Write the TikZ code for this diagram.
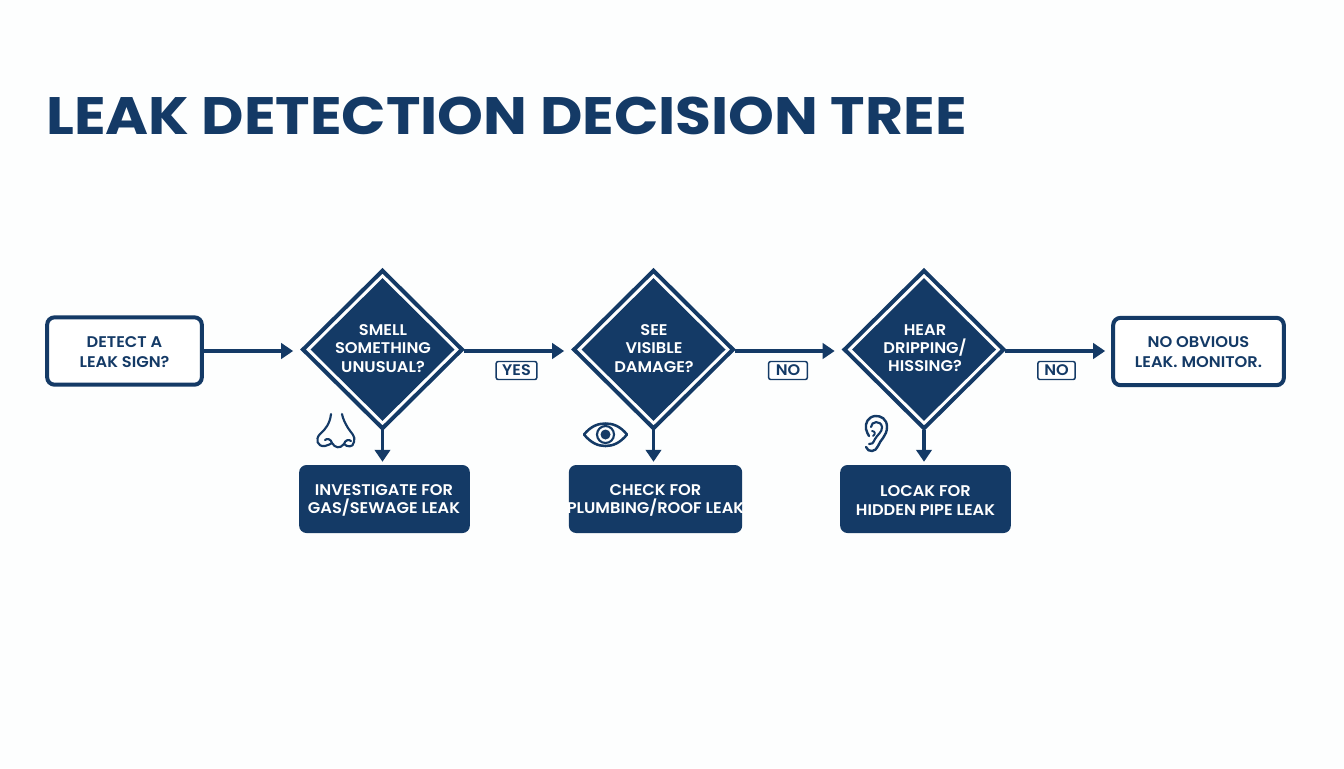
\documentclass[tikz,border=0pt]{standalone}
\usepackage{fontspec}
\setmainfont{Poppins}
\newfontfamily\titlefont[FakeStretch=1.108]{Poppins Bold}
\newfontfamily\bodyfont[FakeStretch=1.05]{Poppins SemiBold}
\usetikzlibrary{arrows.meta,shapes.geometric,calc}
\definecolor{navy}{HTML}{143A66}
\definecolor{paper}{HTML}{FDFEFE}
\tikzset{
  x=0.75pt,y=-0.75pt,
  txt/.style={font=\bodyfont\fontsize{11.6}{13.6}\selectfont,align=center,inner sep=0,outer sep=0},
  outlinebox/.style={draw=navy,line width=3pt,fill=white,rounded corners=5.5pt,inner sep=0,outer sep=1.5pt,minimum height=50.5pt},
  solidbox/.style={fill=navy,rounded corners=5.5pt,inner sep=0,minimum height=51pt},
  diaouter/.style={diamond,aspect=1,draw=navy,line width=3pt,fill=white,inner sep=0,outer sep=1pt,minimum width=120pt,minimum height=119pt},
  diainner/.style={diamond,aspect=1,fill=navy,inner sep=0,outer sep=0,minimum width=108pt,minimum height=107pt},
  flow/.style={draw=navy,line width=2.4pt,-{Triangle[length=9pt,width=11.5pt]}},
  taglabel/.style={draw=navy,line width=1.1pt,fill=white,rounded corners=1.5pt,inner sep=0,minimum height=13.5pt,text=navy,font=\bodyfont\fontsize{11.5}{13}\selectfont},
  icon/.style={draw=navy,line width=1.6pt,line cap=round,line join=round}
}
\begin{document}
\begin{tikzpicture}
\useasboundingbox (0,0) rectangle (1344,768);
\fill[paper] (0,0) rectangle (1344,768);
\node[anchor=base west,inner sep=0,text=navy,font=\titlefont\fontsize{39.5}{44}\selectfont] (title) at (46,134) {LEAK DETECTION DECISION TREE};

\node[outlinebox,minimum width=116pt] (start) at (124.5,351) {};
\node[txt,text=navy] (ls) at (124.5,352.5) {DETECT A\\[1.5pt]LEAK SIGN?};
\node[outlinebox,minimum width=128pt] (stop) at (1198.5,351.5) {};
\node[txt,text=navy] (le) at (1198.5,352.5) {NO OBVIOUS\\[1.5pt]LEAK. MONITOR.};

\node[diaouter] (d1) at (382.5,349.5) {};
\node[diainner] (i1) at (d1.center) {};
\node[txt,text=white] (t1) at (383,348.5) {SMELL\\SOMETHING\\UNUSUAL?};
\node[diaouter] (d2) at (653.5,349.5) {};
\node[diainner] (i2) at (d2.center) {};
\node[txt,text=white] (t2) at (654,348.5) {SEE\\VISIBLE\\DAMAGE?};
\node[diaouter] (d3) at (924,349.5) {};
\node[diainner] (i3) at (d3.center) {};
\node[txt,text=white] (t3) at (925,348.5) {HEAR\\DRIPPING/\\HISSING?};

\node[solidbox,minimum width=128pt] (b1) at (384.5,499) {};
\node[txt,text=white] (l1) at (384,500.5) {INVESTIGATE FOR\\GAS/SEWAGE LEAK};
\node[solidbox,minimum width=130pt] (b2) at (655.5,499) {};
\node[txt,text=white] (l2) at (655.5,500.5) {CHECK FOR\\PLUMBING/ROOF LEAK};
\node[solidbox,minimum width=128pt] (b3) at (925.5,499) {};
\node[txt,text=white] (l3) at (925.5,500.5) {LOCAK FOR\\HIDDEN PIPE LEAK};

\draw[flow,shorten >=6pt] (start.east) -- (start.east -| d1.west);
\draw[flow,shorten >=6pt] (d1.east |- start.east) -- (start.east -| d2.west);
\draw[flow,shorten >=6pt] (d2.east |- start.east) -- (start.east -| d3.west);
\draw[flow,shorten >=4.5pt] (d3.east |- start.east) -- (start.east -| stop.west);
\draw[flow,shorten >=2.2pt] (d1.south) -- (d1.south |- b1.north);
\draw[flow,shorten >=2.2pt] (d2.south) -- (d2.south |- b2.north);
\draw[flow,shorten >=2.2pt] (d3.south) -- (d3.south |- b3.north);

\node[taglabel,minimum width=30.5pt] (yes) at (516.5,370.5) {YES};
\node[taglabel,minimum width=29pt] (no1) at (788,370.5) {NO};
\node[taglabel,minimum width=28pt] (no2) at (1056.5,370.5) {NO};

% nose
\draw[icon] (331,414) .. controls (330,423) and (326,429) .. (320,434)
  .. controls (315,439) and (317,447) .. (325,446)
  .. controls (328,445.5) and (330,444) .. (332,443)
  .. controls (335,448) and (340,449) .. (344,444)
  .. controls (347,447) and (353,448) .. (354,442)
  .. controls (356,436) and (351,433) .. (348,428)
  .. controls (345,423) and (343,419) .. (342,414);
\draw[icon] (325,440) .. controls (327,438) and (331,439) .. (332,443);
\draw[icon] (344,444) .. controls (345,440) and (349,439) .. (351,441);
% eye
\draw[icon,line width=1.9pt] (584,434.5) .. controls (591,426) and (598,423.5) .. (605.5,423.5)
  .. controls (613,423.5) and (620,426) .. (627,434.5)
  .. controls (620,443) and (613,446) .. (605.5,446)
  .. controls (598,446) and (591,443) .. (584,434.5) -- cycle;
\draw[icon,line width=1.6pt] (605.5,434.5) circle (8.5);
\fill[navy] (605.5,434.5) circle (5);
% ear
\draw[icon,line width=1.8pt] (866,447) .. controls (868,453) and (876,452) .. (878,446)
  .. controls (880,440) and (887,436) .. (887,427)
  .. controls (887,419) and (881,415.5) .. (875,416)
  .. controls (868,417) and (865,423) .. (866,429)
  .. controls (866.5,432) and (868,434) .. (869,436);
\draw[icon,line width=1.6pt] (871,427) .. controls (871,421) and (881,420) .. (882,427)
  .. controls (882.5,432) and (877,435) .. (875,439)
  .. controls (873,443) and (872,445) .. (869,444);
\draw[icon,line width=1.4pt] (872,431) .. controls (875,431) and (876,434) .. (873,436);
\end{tikzpicture}
\end{document}
